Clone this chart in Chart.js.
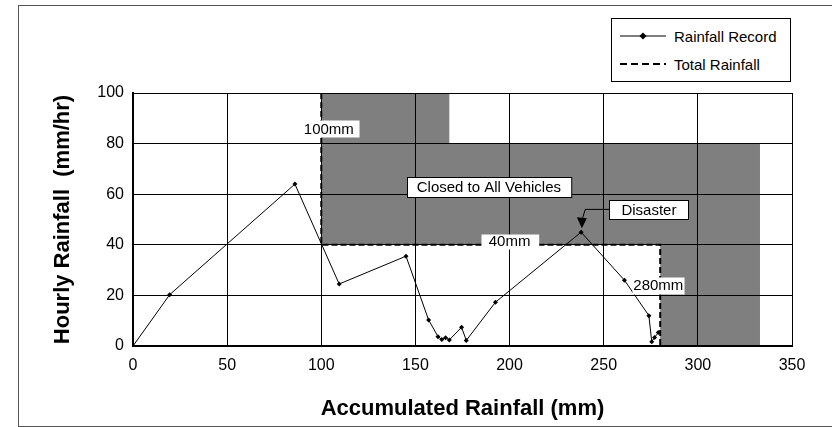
<!DOCTYPE html>
<html>
<head>
<meta charset="utf-8">
<script src="https://cdn.jsdelivr.net/npm/chart.js@4.4.1/dist/chart.umd.min.js"></script>
<style>
html, body { margin: 0; padding: 0; background: #fff; }
#wrap { position: relative; width: 832px; height: 427px; overflow: hidden; font-family: 'Liberation Sans', Arial, sans-serif; }
#frame { position: absolute; left: 18px; top: 5px; width: 830px; height: 422px; border: 1px solid #555; box-sizing: border-box; }
canvas { position: absolute; left: 0; top: 0; }
#legend { position: absolute; left: 611px; top: 18px; width: 180px; height: 64px; border: 1px solid #000; box-sizing: border-box; background: #fff; font-size: 15px; color: #000; }
.row { position: absolute; left: 0; height: 20px; display: flex; align-items: center; }
.row svg { margin-left: 8px; margin-right: 8px; }
</style>
</head>
<body>
<div id="wrap">
  <div id="frame"></div>
  <canvas id="chart" width="832" height="427"></canvas>
  <div id="legend">
    <div class="row" style="top:7px">
      <svg width="46" height="10"><line x1="0" y1="5" x2="46" y2="5" stroke="#000" stroke-width="1"/><rect x="20.5" y="2.5" width="5" height="5" transform="rotate(45 23 5)" fill="#000"/></svg>
      <span>Rainfall Record</span>
    </div>
    <div class="row" style="top:35px">
      <svg width="46" height="10"><line x1="0" y1="5" x2="46" y2="5" stroke="#000" stroke-width="2" stroke-dasharray="7,4"/></svg>
      <span>Total Rainfall</span>
    </div>
  </div>
</div>
<script>
// rainfall record: accumulated (mm) vs hourly (mm/hr)
const recordX = [0, 19.5, 86, 109.5, 145, 157, 162, 164, 166, 168, 174.5, 177, 192.5, 238, 261, 274, 275.5, 277, 279];
const recordY = [0, 20.3, 64, 24.5, 35.5, 10.3, 3.7, 2.6, 3.3, 2.4, 7.4, 2.2, 17.3, 45, 26, 12, 1.7, 3.4, 5.3];

// total rainfall threshold (dashed)
const totalX = [100, 100, 280, 280];
const totalY = [100, 40, 40, 0];

// closed-to-all-vehicles zone (grey)
const closedX = [100, 168, 168, 333, 333, 280, 280, 100];
const closedY = [100, 100, 80, 80, 0, 0, 40, 40];

const xTicks = [0, 50, 100, 150, 200, 250, 300, 350];
const yTicks = [0, 20, 40, 60, 80, 100];

const toPts = (xs, ys) => xs.map((x, i) => ({ x: x, y: ys[i] }));

// text boxes on the plot
const notes = [
  { text: '100mm', x: 104, y: 86, padX: 5, h: 17, border: false },
  { text: 'Closed to All Vehicles', x: 189, y: 63, padX: 10, h: 20, border: true },
  { text: '40mm', x: 200, y: 41.5, padX: 8, h: 15, border: false },
  { text: '280mm', x: 279, y: 24, padX: 1, h: 17, border: false },
  { text: 'Disaster', x: 274, y: 54, padX: 12, h: 19, border: true }
];
const arrow = { from: 'Disaster', corner: { x: 240.2, y: 54 }, tip: { x: 238.4, y: 46.5 } };

const notesPlugin = {
  id: 'notes',
  afterDatasetsDraw(chart) {
    const ctx = chart.ctx;
    const xs = chart.scales.x, ys = chart.scales.y;
    ctx.save();
    ctx.font = '15px "Liberation Sans", Arial, sans-serif';
    ctx.textAlign = 'center';
    ctx.textBaseline = 'middle';
    let disasterLeft = 0, disasterY = 0;
    notes.forEach(n => {
      const cx = xs.getPixelForValue(n.x), cy = ys.getPixelForValue(n.y);
      const w = ctx.measureText(n.text).width + n.padX * 2;
      const left = Math.round(cx - w / 2) + 0.5, top = Math.round(cy - n.h / 2) + 0.5;
      ctx.fillStyle = '#fff';
      ctx.fillRect(left, top, w, n.h);
      if (n.border) {
        ctx.strokeStyle = '#000';
        ctx.lineWidth = 1;
        ctx.strokeRect(left, top, w, n.h);
      }
      ctx.fillStyle = '#000';
      ctx.fillText(n.text, cx, cy + 1);
      if (n.text === arrow.from) { disasterLeft = left; disasterY = cy; }
    });
    // arrow from Disaster box to the peak point
    const kx = xs.getPixelForValue(arrow.corner.x);
    const tx = xs.getPixelForValue(arrow.tip.x), ty = ys.getPixelForValue(arrow.tip.y);
    ctx.strokeStyle = '#000';
    ctx.lineWidth = 1;
    ctx.beginPath();
    ctx.moveTo(disasterLeft, disasterY);
    ctx.lineTo(kx, disasterY);
    ctx.lineTo(tx, ty - 8);
    ctx.stroke();
    ctx.beginPath();
    ctx.moveTo(tx, ty);
    ctx.lineTo(tx - 5, ty - 11);
    ctx.lineTo(tx + 5, ty - 10);
    ctx.closePath();
    ctx.fillStyle = '#000';
    ctx.fill();
    ctx.restore();
  }
};

Chart.defaults.font.family = "'Liberation Sans', Arial, sans-serif";
Chart.defaults.color = '#000';

new Chart(document.getElementById('chart'), {
  type: 'line',
  data: {
    datasets: [
      {
        label: 'Rainfall Record',
        data: toPts(recordX, recordY),
        borderColor: '#000',
        backgroundColor: '#000',
        borderWidth: 1,
        pointStyle: 'rectRot',
        pointRadius: 2.5,
        pointBorderWidth: 0,
        tension: 0,
        order: 1
      },
      {
        label: 'Total Rainfall',
        data: toPts(totalX, totalY),
        borderColor: '#000',
        borderWidth: 2,
        borderDash: [6, 3],
        pointRadius: 0,
        tension: 0,
        order: 2
      },
      {
        label: 'Closed',
        data: toPts(closedX, closedY),
        borderWidth: 0,
        borderColor: 'rgba(0,0,0,0)',
        backgroundColor: 'rgba(0,0,0,0.5)',
        fill: 'shape',
        pointRadius: 0,
        tension: 0,
        order: 3
      }
    ]
  },
  options: {
    responsive: false,
    animation: false,
    devicePixelRatio: 1,
    layout: { padding: { top: 93, right: 40, bottom: 0, left: 0 } },
    plugins: { legend: { display: false }, tooltip: { enabled: false } },
    scales: {
      x: {
        type: 'linear',
        min: 0,
        max: 350,
        afterBuildTicks: s => { s.ticks = xTicks.map(v => ({ value: v })); },
        afterFit: s => { s.height = 81; },
        grid: { color: '#000', lineWidth: 1, drawTicks: false },
        border: { color: '#000', width: 2 },
        ticks: { font: { size: 16 }, color: '#000', padding: 10, maxRotation: 0 },
        title: { display: true, text: 'Accumulated Rainfall (mm)', color: '#000', font: { size: 22, weight: 'bold' }, padding: { top: 0, bottom: 5 } }
      },
      y: {
        type: 'linear',
        min: 0,
        max: 100,
        afterBuildTicks: s => { s.ticks = yTicks.map(v => ({ value: v })); },
        afterFit: s => { s.width = 133; },
        grid: { color: '#000', lineWidth: 1, drawTicks: false },
        border: { color: '#000', width: 2 },
        ticks: { font: { size: 16 }, color: '#000', padding: 9 },
        title: { display: true, text: 'Hourly Rainfall  (mm/hr)', color: '#000', font: { size: 22, weight: 'bold' }, padding: { top: 50, bottom: 0 } }
      }
    }
  },
  plugins: [notesPlugin]
});
</script>
</body>
</html>
